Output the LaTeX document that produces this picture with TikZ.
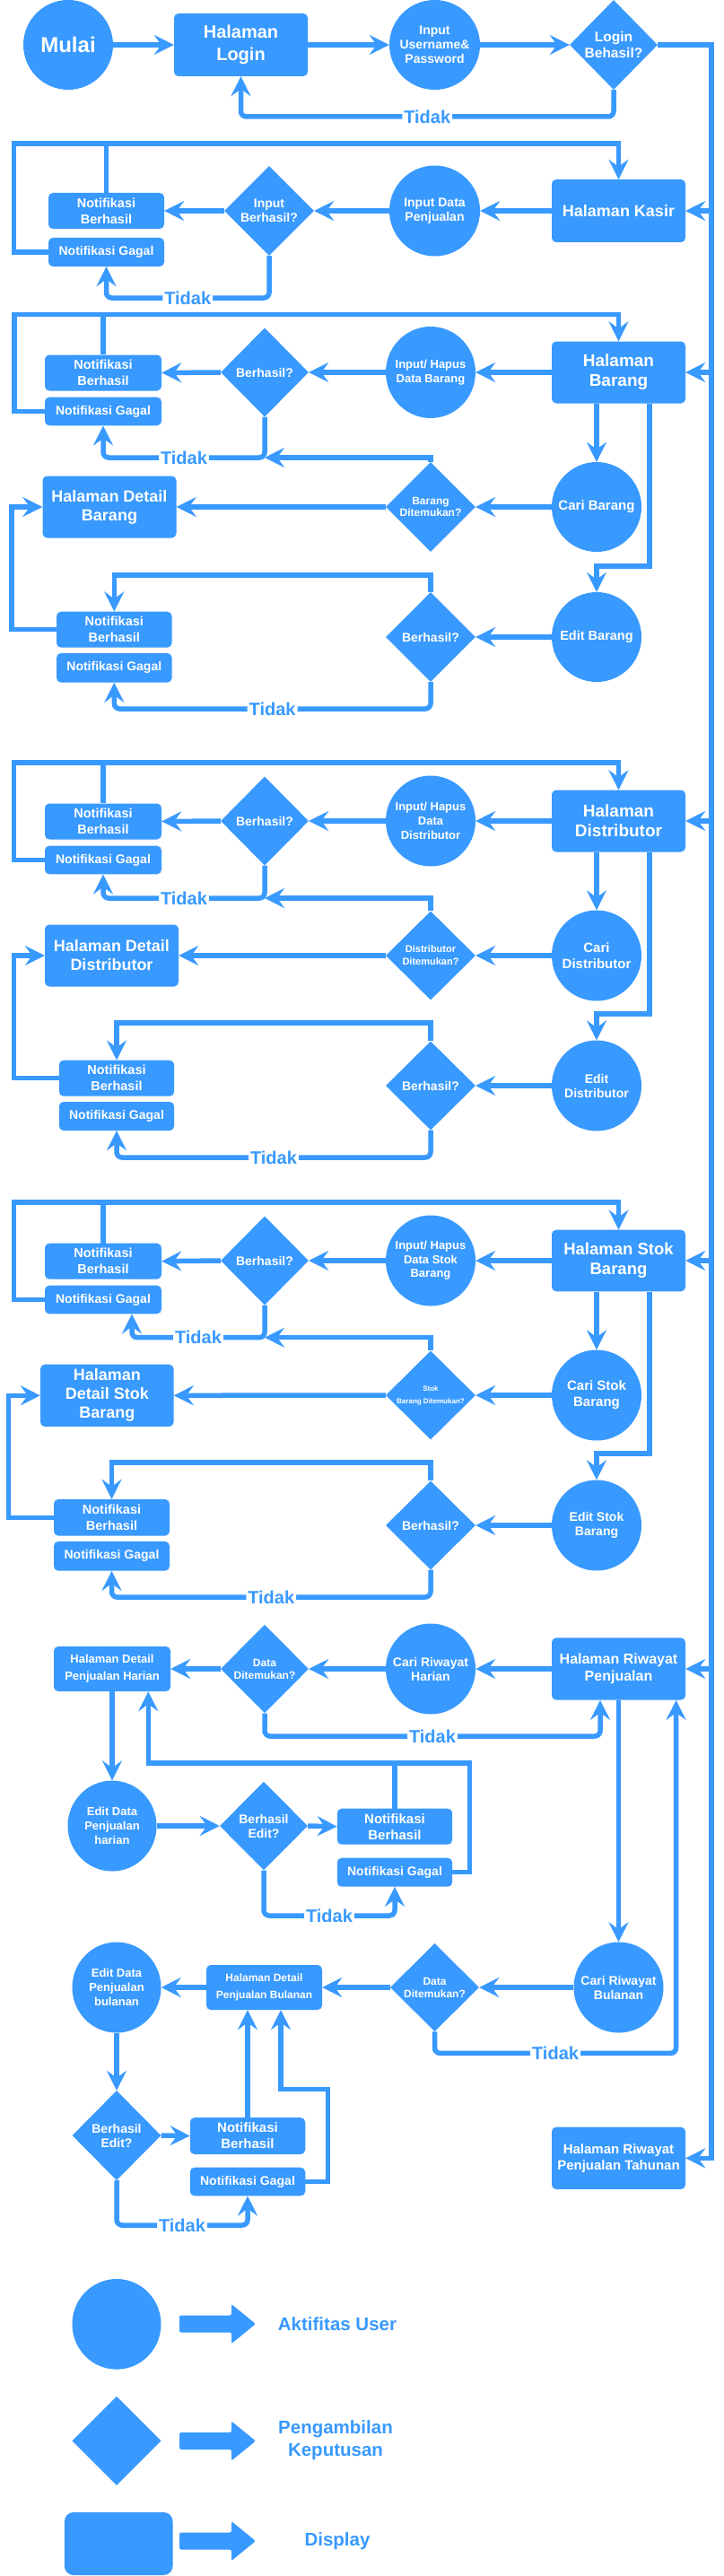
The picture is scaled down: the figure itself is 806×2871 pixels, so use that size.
\documentclass[tikz,border=0pt]{standalone}
\usepackage{fontspec}
\setmainfont{Liberation Sans}
\usetikzlibrary{shapes.geometric,arrows.meta}
\definecolor{bl}{HTML}{3899FF}
\newcommand\fsz[2]{\fontsize{#1}{#2}\selectfont\bfseries}
\begin{document}
\begin{tikzpicture}[x=1pt,y=-1pt,
  ln/.style={draw=bl,line width=5.5pt},
  arr/.style={ln,-{Stealth[length=22pt,width=22pt,inset=8pt]}},
  tidak/.style={arr,rounded corners=6pt},
  tlab/.style={fill=white,text=bl,font=\fsz{20}{24},inner xsep=2pt,inner ysep=0pt},
  sz/.style 2 args={minimum width=#1pt,minimum height=#2pt},
  box/.style={rectangle,fill=bl,rounded corners=5pt,text=white,align=center,inner sep=0pt},
  el/.style={ellipse,fill=bl,inner sep=0pt},
  dia/.style={diamond,fill=bl,inner sep=0pt},
  wt/.style={text=white,align=center,inner sep=0pt},
  nb/.style={box,font=\fsz{14.5}{18}},
  ng/.style={box,font=\fsz{14}{17}},
]
\useasboundingbox (0,0) rectangle (806,2871);
\fill[white] (0,0) rectangle (806,2871);

% ---------- top row ----------
\node[el,sz={100}{100},label={[wt,font=\fsz{24}{28}]center:Mulai}] (mulai) at (76,50) {};
\node[box,sz={149}{70},font=\fsz{20}{25}] (login) at (268.5,50) {Halaman\\Login};
\node[el,sz={101}{100},label={[wt,font=\fsz{14}{16}]center:{Input\\Username\&\\Password}}] (inuser) at (484.5,50) {};
\node[dia,sz={98}{100},label={[wt,font=\fsz{15.5}{18}]center:{Login\\Behasil?}}] (logok) at (684,50) {};
\coordinate (rt) at (793,50);

% ---------- kasir ----------
\node[box,sz={149}{70},font=\fsz{18}{22}] (kasir) at (689.5,235) {Halaman Kasir};
\node[el,sz={101}{101},label={[wt,font=\fsz{14}{16}]center:{Input Data\\Penjualan}}] (inpj) at (484.5,235) {};
\node[dia,sz={100}{100},label={[wt,font=\fsz{14}{15.5}]center:{Input\\Berhasil?}}] (inok) at (300,235) {};
\node[nb,sz={129}{40}] (kb) at (118.5,235) {Notifikasi\\Berhasil};
\node[ng,sz={129}{32}] (kg) at (118.5,281) {Notifikasi Gagal};
\coordinate (kL) at (15.5,160);

% ---------- barang ----------
\node[box,sz={149}{69},font=\fsz{19}{22}] (brg) at (689.5,415) {Halaman\\Barang};
\node[el,sz={100}{102},label={[wt,font=\fsz{13}{16.5}]center:{Input/ Hapus\\Data Barang}}] (inbrg) at (480,415) {};
\node[dia,sz={98}{99},label={[wt,font=\fsz{14}{16}]center:{Berhasil?}}] (brgok) at (295,415) {};
\node[nb,sz={130}{40}] (bb1) at (115,415.5) {Notifikasi\\Berhasil};
\node[ng,sz={130}{31.6}] (bg1) at (115,458.5) {Notifikasi Gagal};
\node[el,sz={100}{100},label={[wt,font=\fsz{15}{18}]center:{Cari Barang}}] (cbrg) at (665,565) {};
\node[dia,sz={100}{100},label={[wt,font=\fsz{12}{13.5}]center:{Barang\\Ditemukan?}}] (brgfd) at (480,565) {};
\node[box,sz={149}{69},font=\fsz{18}{21}] (detbrg) at (122,565) {Halaman Detail\\Barang};
\node[el,sz={100}{100},label={[wt,font=\fsz{14.5}{17}]center:{Edit Barang}}] (ebrg) at (665,710) {};
\node[dia,sz={100}{100},label={[wt,font=\fsz{14}{16}]center:{Berhasil?}}] (ebrgok) at (480,710) {};
\node[nb,sz={128.5}{40}] (bb2) at (127.3,701.7) {Notifikasi\\Berhasil};
\node[ng,sz={128.5}{32.7}] (bg2) at (127.3,744.3) {Notifikasi Gagal};
\coordinate (bL) at (16,350.7);

% ---------- distributor ----------
\node[box,sz={149}{69},font=\fsz{19}{22}] (dst) at (689.5,915) {Halaman\\Distributor};
\node[el,sz={100}{101},label={[wt,font=\fsz{13}{16}]center:{Input/ Hapus\\Data\\Distributor}}] (indst) at (480,915) {};
\node[dia,sz={98}{99},label={[wt,font=\fsz{14}{16}]center:{Berhasil?}}] (dstok) at (295,915) {};
\node[nb,sz={130}{40}] (db1) at (115,915.5) {Notifikasi\\Berhasil};
\node[ng,sz={130}{31.6}] (dg1) at (115,958.5) {Notifikasi Gagal};
\node[el,sz={100}{101},label={[wt,font=\fsz{15}{18}]center:{Cari\\Distributor}}] (cdst) at (665,1065) {};
\node[dia,sz={100}{99},label={[wt,font=\fsz{11}{14}]center:{Distributor\\Ditemukan?}}] (dstfd) at (480,1065) {};
\node[box,sz={149}{69},font=\fsz{18}{21}] (detdst) at (124.5,1065) {Halaman Detail\\Distributor};
\node[el,sz={100}{101},label={[wt,font=\fsz{14}{16}]center:{Edit\\Distributor}}] (edst) at (665,1210) {};
\node[dia,sz={100}{99},label={[wt,font=\fsz{14}{16}]center:{Berhasil?}}] (edstok) at (480,1210) {};
\node[nb,sz={128.3}{40}] (db2) at (130,1201.7) {Notifikasi\\Berhasil};
\node[ng,sz={128.3}{32}] (dg2) at (130,1244) {Notifikasi Gagal};
\coordinate (dL) at (15.5,850);

% ---------- stok ----------
\node[box,sz={149}{68.6},font=\fsz{18.5}{22}] (stk) at (689.5,1405) {Halaman Stok\\Barang};
\node[el,sz={100}{101},label={[wt,font=\fsz{13}{15.5}]center:{Input/ Hapus\\Data Stok\\Barang}}] (instk) at (480,1405) {};
\node[dia,sz={98}{99},label={[wt,font=\fsz{14}{16}]center:{Berhasil?}}] (stkok) at (295,1405) {};
\node[nb,sz={130}{40}] (sb1) at (115,1405.7) {Notifikasi\\Berhasil};
\node[ng,sz={130}{31.6}] (sg1) at (115,1448.5) {Notifikasi Gagal};
\node[el,sz={100}{101},label={[wt,font=\fsz{15}{18}]center:{Cari Stok\\Barang}}] (cstk) at (665,1555) {};
\node[dia,sz={100}{99},label={[wt,font=\fsz{8}{14}]center:{Stok\\Barang Ditemukan?}}] (stkfd) at (480,1555) {};
\node[box,sz={148.5}{69.3},font=\fsz{18}{21}] (detstk) at (119.3,1555.3) {Halaman\\Detail Stok\\Barang};
\node[el,sz={100}{101},label={[wt,font=\fsz{14}{16}]center:{Edit Stok\\Barang}}] (estk) at (665,1700) {};
\node[dia,sz={100}{99},label={[wt,font=\fsz{14}{16}]center:{Berhasil?}}] (estkok) at (480,1700) {};
\node[nb,sz={129}{40.7}] (sb2) at (124.5,1691.3) {Notifikasi\\Berhasil};
\node[ng,sz={129}{32.7}] (sg2) at (124.5,1734.3) {Notifikasi Gagal};
\coordinate (sL) at (15.4,1340);

% ---------- riwayat ----------
\node[box,sz={149}{69.3},font=\fsz{16}{19}] (rwy) at (689.5,1860) {Halaman Riwayat\\Penjualan};
\node[el,sz={100}{101},label={[wt,font=\fsz{14}{16}]center:{Cari Riwayat\\Harian}}] (crh) at (480,1860) {};
\node[dia,sz={98}{98.6},label={[wt,font=\fsz{12}{14}]center:{Data\\Ditemukan?}}] (dfh) at (295,1860) {};
\node[box,sz={130}{50},font=\fsz{13}{19}] (deth) at (125,1860) {Halaman Detail\\Penjualan Harian};
\node[el,sz={99}{101},label={[wt,font=\fsz{13}{16}]center:{Edit Data\\Penjualan\\harian}}] (edh) at (125,2035) {};
\node[dia,sz={98}{98.6},label={[wt,font=\fsz{14}{16}]center:{Berhasil\\Edit?}}] (beh) at (294,2035) {};
\node[box,sz={128.3}{40},font=\fsz{15}{18}] (nbh) at (440,2035.7) {Notifikasi\\Berhasil};
\node[ng,sz={128.3}{32}] (ngh) at (440,2086.7) {Notifikasi Gagal};
\node[el,sz={100}{101},label={[wt,font=\fsz{14}{16}]center:{Cari Riwayat\\Bulanan}}] (crb) at (689.5,2215) {};
\node[dia,sz={99}{98.3},label={[wt,font=\fsz{12}{14}]center:{Data\\Ditemukan?}}] (dfb) at (484.5,2215) {};
\node[box,sz={129}{50},font=\fsz{12}{19}] (detb) at (294.5,2215) {Halaman Detail\\Penjualan Bulanan};
\node[el,sz={99}{101},label={[wt,font=\fsz{13}{16}]center:{Edit Data\\Penjualan\\bulanan}}] (edb) at (130,2215) {};
\node[dia,sz={99}{100},label={[wt,font=\fsz{14}{16}]center:{Berhasil\\Edit?}}] (beb) at (130,2380) {};
\node[box,sz={128.5}{40.7},font=\fsz{15}{18}] (nbb) at (276,2380.5) {Notifikasi\\Berhasil};
\node[ng,sz={128.5}{31.6}] (ngb) at (276,2431.5) {Notifikasi Gagal};
\node[box,sz={149}{69.3},font=\fsz{15}{18}] (thn) at (689.5,2405.3) {Halaman Riwayat\\Penjualan Tahunan};
\coordinate (rh) at (669,1935);
\coordinate (rb) at (753.6,2288.3);
\coordinate (hh) at (523.6,1965);
\coordinate (bh) at (365.5,2328.3);

% ---------- connectors: top ----------
\draw[arr] (mulai.east) -- (login.west);
\draw[arr] (login.east) -- (inuser.west);
\draw[arr] (inuser.east) -- (logok.west);
\draw[tidak] (logok.south) |- node[tlab,pos=.75]{Tidak} (login.south |- 0,130) -- (login.south);
\draw[arr] (logok.east) -- (rt) -- (rt |- thn.east) -- (thn.east);
\foreach \n in {kasir,brg,dst,stk,rwy} \draw[arr] (rt |- \n.east) -- (\n.east);

% ---------- connectors: kasir ----------
\draw[arr] (kasir.west) -- (inpj.east);
\draw[arr] (inpj.west) -- (inok.east);
\draw[arr] (inok.west) -- (kb.east);
\draw[arr] (kg.west) -| (kL) -| (kasir.north);
\draw[ln] (kb.north) -- (kb.north |- kL);
\draw[tidak] (inok.south) |- node[tlab,pos=.75]{Tidak} (kg.south |- 0,332) -- (kg.south);

% ---------- connectors: barang ----------
\draw[arr] (brg.west) -- (inbrg.east);
\draw[arr] (inbrg.west) -- (brgok.east);
\draw[arr] (brgok.west) -- (bb1.east);
\draw[arr] (bg1.west) -| (bL) -| (brg.north);
\draw[ln] (bb1.north) -- (bb1.north |- bL);
\draw[tidak] (brgok.south) |- node[tlab,pos=.75]{Tidak} (bg1.south |- 0,510) -- (bg1.south);
\draw[arr] (brgfd.north) |- (brgok.south |- 0,510);
\draw[arr] (brg.south -| cbrg.north) -- (cbrg.north);
\draw[arr] (brg.south -| 724,0) |- (ebrg.north |- 0,631) -- (ebrg.north);
\draw[arr] (cbrg.west) -- (brgfd.east);
\draw[arr] (brgfd.west) -- (detbrg.east);
\draw[arr] (ebrg.west) -- (ebrgok.east);
\draw[arr] (ebrgok.north) |- (bb2.north |- 0,641) -- (bb2.north);
\draw[tidak] (ebrgok.south) |- node[tlab,pos=.75]{Tidak} (bg2.south |- 0,790) -- (bg2.south);
\draw[arr] (bb2.west) -- (bb2.west -| 13,0) |- (detbrg.west);

% ---------- connectors: distributor ----------
\draw[arr] (dst.west) -- (indst.east);
\draw[arr] (indst.west) -- (dstok.east);
\draw[arr] (dstok.west) -- (db1.east);
\draw[arr] (dg1.west) -| (dL) -| (dst.north);
\draw[ln] (db1.north) -- (db1.north |- dL);
\draw[tidak] (dstok.south) |- node[tlab,pos=.75]{Tidak} (dg1.south |- 0,1001) -- (dg1.south);
\draw[arr] (dstfd.north) |- (dstok.south |- 0,1001);
\draw[arr] (dst.south -| cdst.north) -- (cdst.north);
\draw[arr] (dst.south -| 724,0) |- (edst.north |- 0,1130) -- (edst.north);
\draw[arr] (cdst.west) -- (dstfd.east);
\draw[arr] (dstfd.west) -- (detdst.east);
\draw[arr] (edst.west) -- (edstok.east);
\draw[arr] (edstok.north) |- (db2.north |- 0,1140) -- (db2.north);
\draw[tidak] (edstok.south) |- node[tlab,pos=.75]{Tidak} (dg2.south |- 0,1290) -- (dg2.south);
\draw[arr] (db2.west) -- (db2.west -| 15.4,0) |- (detdst.west);

% ---------- connectors: stok ----------
\draw[arr] (stk.west) -- (instk.east);
\draw[arr] (instk.west) -- (stkok.east);
\draw[arr] (stkok.west) -- (sb1.east);
\draw[arr] (sg1.west) -| (sL) -| (stk.north);
\draw[ln] (sb1.north) -- (sb1.north |- sL);
\draw[tidak] (stkok.south) |- node[tlab,pos=.75]{Tidak} (147,1490.7) -- (sg1.south -| 147,0);
\draw[arr] (stkfd.north) |- (stkok.south |- 0,1490.7);
\draw[arr] (stk.south -| cstk.north) -- (cstk.north);
\draw[arr] (stk.south -| 724,0) |- (estk.north |- 0,1620) -- (estk.north);
\draw[arr] (cstk.west) -- (stkfd.east);
\draw[arr] (stkfd.west) -- (detstk.east);
\draw[arr] (estk.west) -- (estkok.east);
\draw[arr] (estkok.north) |- (sb2.north |- 0,1630) -- (sb2.north);
\draw[tidak] (estkok.south) |- node[tlab,pos=.75]{Tidak} (sg2.south |- 0,1780) -- (sg2.south);
\draw[arr] (sb2.west) -- (sb2.west -| 9.5,0) |- (detstk.west);

% ---------- connectors: riwayat ----------
\draw[arr] (rwy.west) -- (crh.east);
\draw[arr] (crh.west) -- (dfh.east);
\draw[arr] (dfh.west) -- (deth.east);
\draw[tidak] (dfh.south) |- node[tlab,pos=.75]{Tidak} (rh) -- (rh |- rwy.south);
\draw[arr] (deth.south) -- (edh.north);
\draw[arr] (edh.east) -- (beh.west);
\draw[arr] (beh.east) -- (nbh.west);
\draw[ln] (nbh.north) -- (nbh.north |- hh);
\draw[arr] (ngh.east) -| (hh) -| (deth.south -| 165.3,0);
\draw[tidak] (beh.south) |- node[tlab,pos=.75]{Tidak} (ngh.south |- 0,2135) -- (ngh.south);
\draw[arr] (rwy.south) -- (crb.north);
\draw[arr] (crb.west) -- (dfb.east);
\draw[arr] (dfb.west) -- (detb.east);
\draw[arr] (detb.west) -- (edb.east);
\draw[tidak] (dfb.south) |- node[tlab,pos=.75]{Tidak} (rb) -- (rb |- rwy.south);
\draw[arr] (edb.south) -- (beb.north);
\draw[arr] (beb.east) -- (nbb.west);
\draw[arr] (nbb.north) -- (detb.south -| nbb.north);
\draw[arr] (ngb.east) -| (bh) -| (detb.south -| 313,0);
\draw[tidak] (beb.south) |- node[tlab,pos=.75]{Tidak} (ngb.south |- 0,2480) -- (ngb.south);

% ---------- legend ----------
\node[el,sz={99}{100.7}] (lc) at (130,2590.3) {};
\node[dia,sz={99}{99.3}] (ld) at (130,2720.3) {};
\node[box,sz={120.6}{70},rounded corners=10pt] (lr) at (132.2,2835) {};
\foreach \yy in {2590,2720.5,2832}
  \fill[bl,rounded corners=2pt] (200,\yy-9.5) -- (258,\yy-9.5) -- (258,\yy-22) -- (285,\yy) -- (258,\yy+22) -- (258,\yy+9.5) -- (200,\yy+9.5) -- cycle;
\node[text=bl,font=\fsz{20.5}{25}] (lt1) at (376,2590) {Aktifitas User};
\node[text=bl,font=\fsz{20.5}{25},align=center] (lt2) at (374,2720) {Pengambilan\\Keputusan};
\node[text=bl,font=\fsz{20.5}{25}] (lt3) at (376,2832) {Display};
\end{tikzpicture}
\end{document}
